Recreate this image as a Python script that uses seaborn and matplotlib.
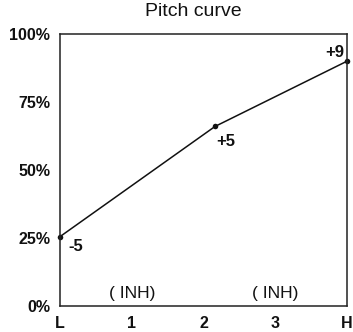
import matplotlib
matplotlib.use("Agg")
import matplotlib.pyplot as plt
import seaborn as sns
import pandas as pd

# Curve points: knob position (L=0 ... H=4) and output level in percent
positions = [0.0, 2.16, 4.0]
levels = [25.5, 66.0, 90.0]
point_labels = ["-5", "+5", "+9"]

x_ticks = [0, 1, 2, 3, 4]
x_tick_labels = ["L", "1", "2", "3", "H"]
y_ticks = [0, 25, 50, 75, 100]
y_tick_labels = ["0%", "25%", "50%", "75%", "100%"]
inh_positions = [1, 3]
inh_text = "( INH)"

sns.set_style("white")
plt.rcParams["font.family"] = ["Liberation Sans", "DejaVu Sans"]

df = pd.DataFrame({"pos": positions, "level": levels})

fig = plt.figure(figsize=(3.53, 3.32), dpi=100)
ax = fig.add_axes([60 / 353, 1 - 306 / 332, 287 / 353, 272 / 332])

sns.lineplot(data=df, x="pos", y="level", ax=ax, color="#111111", linewidth=1.1,
             marker="o", markersize=4, markeredgewidth=0, clip_on=False)

ax.set_xlim(0, 4)
ax.set_ylim(0, 100)
ax.set_xticks(x_ticks)
ax.set_xticklabels(x_tick_labels, fontsize=11.5, fontweight="bold")
ax.set_yticks(y_ticks)
ax.set_yticklabels(y_tick_labels, fontsize=11.5, fontweight="bold")
ax.tick_params(axis="both", length=0, pad=7, colors="#111111")
ax.set_xlabel("")
ax.set_ylabel("")
for s in ax.spines.values():
    s.set_color("#222222")
    s.set_linewidth(1.1)

# Offsets for the value annotations, in points
offsets = [(11, -7), (8, -11), (-9, 6)]
for x, y, t, off in zip(positions, levels, point_labels, offsets):
    ax.annotate(t, (x, y), xytext=off, textcoords="offset points",
                ha="center", va="center", fontsize=12, fontweight="bold",
                color="#111111")

for x in inh_positions:
    ax.text(x, 4.5, inh_text, ha="center", va="center", fontsize=12.5,
            color="#111111")

fig.text(193 / 353, 1 - 12 / 332, "Pitch curve", ha="center", va="center",
         fontsize=14, color="#111111")

fig.savefig("out.png", dpi=100)
